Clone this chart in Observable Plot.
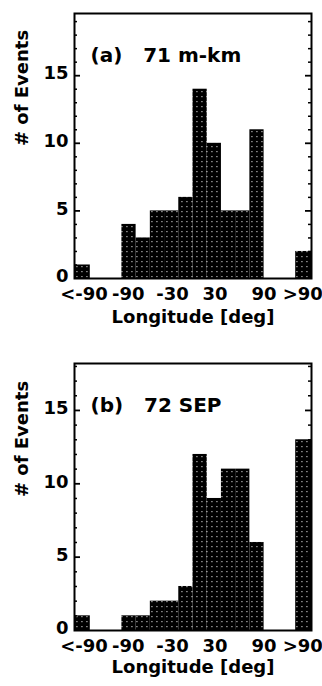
<!DOCTYPE html>
<html>
<head>
<meta charset="utf-8">
<script src="https://cdn.jsdelivr.net/npm/d3@7"></script>
<script src="https://cdn.jsdelivr.net/npm/@observablehq/plot@0.6"></script>
<style>
  html, body { margin: 0; padding: 0; background: #fff; }
  #chart svg { display: block; }
</style>
</head>
<body>
<div id="chart"></div>
<script>
// Longitude bins (deg): outer "<-90" / ">90" bins plus 18-deg bins from -90 to 90
const lonLo = [-150, -90, -72, -54, -36, -18, 0, 18, 36, 54, 72, 130];
const lonHi = [-130, -72, -54, -36, -18, 0, 18, 36, 54, 72, 90, 150];
// Panel (a): 71 m-km events
const countsA = [1, 4, 3, 5, 5, 6, 14, 10, 5, 5, 11, 2];
// Panel (b): 72 SEP events
const countsB = [1, 1, 1, 2, 2, 3, 12, 9, 11, 11, 6, 13];
// Axis ticks (label positions)
const xTickVals = [-138, -82, -26, 28, 90, 139];
const xTickLabels = ["<-90", "-90", "-30", "30", "90", ">90"];
const yTickVals = [0, 5, 10, 15];
const titleA = "(a)\u00a0\u00a0\u00a071 m-km";
const titleB = "(b)\u00a0\u00a0\u00a072 SEP";
const yLabel = "# of Events";
const xLabel = "Longitude [deg]";
const yMaxA = 19.6, yMaxB = 18.2;

const W = 322, ML = 74, MR = 11;
const plotW = W - ML - MR;

function panel(counts, title, yMax, o) {
  const rows = counts.map((n, i) => ({lo: lonLo[i], hi: lonHi[i], n}));
  const minor = d3.range(1, Math.floor(yMax) + 1).filter(v => v % 5 !== 0);
  const major = yTickVals.filter(v => v > 0);
  const svg = Plot.plot({
    width: W, height: o.height,
    marginLeft: ML, marginRight: MR, marginTop: o.marginTop, marginBottom: o.marginBottom,
    style: {fontFamily: "'DejaVu Sans', sans-serif", fontWeight: "bold", fontSize: "18px", background: "white", color: "black", overflow: "visible"},
    x: {domain: [-150, 150], axis: null},
    y: {domain: [0, yMax], axis: null},
    marks: [
      Plot.rect(rows, {x1: "lo", x2: "hi", y1: () => 0, y2: "n", fill: `url(#${o.id})`}),
      Plot.tickY(minor, {stroke: "black", strokeWidth: 1.5, insetRight: plotW - 3}),
      Plot.tickY(minor, {stroke: "black", strokeWidth: 1.5, insetLeft: plotW - 3}),
      Plot.tickY(major, {stroke: "black", strokeWidth: 1.8, insetRight: plotW - 6}),
      Plot.tickY(major, {stroke: "black", strokeWidth: 1.8, insetLeft: plotW - 6}),
      Plot.axisX({ticks: xTickVals, tickFormat: d => xTickLabels[xTickVals.indexOf(d)], tickSize: 0, tickPadding: o.xPad, fontSize: 18, fontWeight: "bold", label: null}),
      Plot.axisY({ticks: yTickVals, tickSize: 0, tickPadding: 6, dy: -2, fontSize: 18, fontWeight: "bold", label: null}),
      Plot.frame({stroke: "black", strokeWidth: 2}),
      Plot.text([title], {frameAnchor: "top-left", dx: 16, dy: 34, textAnchor: "start", fontSize: 20, fontWeight: "bold"}),
      Plot.text([yLabel], {frameAnchor: "left", dx: -52, rotate: -90, fontSize: 18, fontWeight: "bold"}),
      Plot.text([xLabel], {frameAnchor: "bottom", dy: o.titleDy, fontSize: 18, fontWeight: "bold"})
    ]
  });
  d3.select(svg).insert("defs", ":first-child").html(
    `<pattern id="${o.id}" patternUnits="userSpaceOnUse" width="5" height="5">
       <rect width="5" height="5" fill="black"/>
       <rect x="1.5" y="1" width="0.9" height="1.2" fill="white"/>
     </pattern>`);
  return svg;
}

const chart = document.getElementById("chart");
chart.appendChild(panel(countsA, titleA, yMaxA, {id: "hatchA", height: 345, marginTop: 13, marginBottom: 67, xPad: 9, titleDy: 44}));
chart.appendChild(panel(countsB, titleB, yMaxB, {id: "hatchB", height: 341, marginTop: 18, marginBottom: 56, xPad: 9, titleDy: 42}));
</script>
</body>
</html>
